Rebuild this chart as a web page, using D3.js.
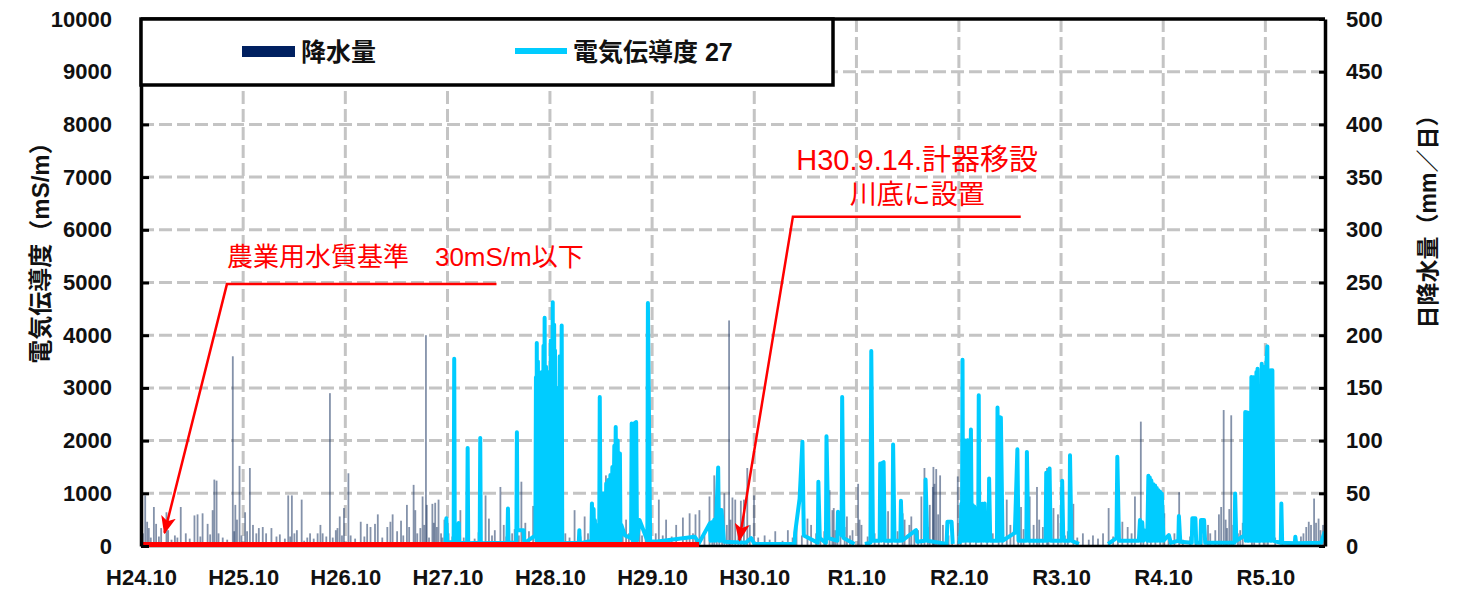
<!DOCTYPE html>
<html lang="ja">
<head>
<meta charset="UTF-8">
<title>電気伝導度と降水量</title>
<script src="https://cdn.jsdelivr.net/npm/d3@7"></script>
<style>
  body { margin: 0; background: #fff; }
  svg text { font-family: "Liberation Sans", "Noto Sans CJK JP", sans-serif; }
</style>
</head>
<body>
<div id="chart"></div>
<script>
// x ticks: each October
const yearTicks = ["2012-10-01","2013-10-01","2014-10-01","2015-10-01","2016-10-01","2017-10-01",
  "2018-10-01","2019-10-01","2020-10-01","2021-10-01","2022-10-01","2023-10-01"];
const yearLabels = ["H24.10","H25.10","H26.10","H27.10","H28.10","H29.10",
  "H30.10","R1.10","R2.10","R3.10","R4.10","R5.10"];
const condTicks = [0,1000,2000,3000,4000,5000,6000,7000,8000,9000,10000];
const rainTicks = [0,50,100,150,200,250,300,350,400,450,500];

// daily precipitation (mm/day), right axis
const precip = [
  ["2012-10-08",12],["2012-10-16",48],["2012-10-23",23],["2012-10-29",17],["2012-11-05",8],["2012-11-16",37],
  ["2012-11-24",21],["2012-12-04",9],["2012-12-12",17],["2012-12-31",32],["2013-01-06",15],["2013-01-18",6],
  ["2013-01-30",10],["2013-02-08",8],["2013-02-20",37],["2013-03-10",12],["2013-03-24",7],["2013-04-10",29],
  ["2013-04-21",30],["2013-05-01",9],["2013-05-09",31],["2013-05-27",21],["2013-06-05",11],["2013-06-14",34],
  ["2013-06-20",63],["2013-06-28",62],["2013-07-05",12],["2013-07-20",8],["2013-08-05",6],["2013-08-25",180],
  ["2013-08-30",14],["2013-09-03",39],["2013-09-09",25],["2013-09-18",76],["2013-09-25",10],
  ["2013-10-08",32],["2013-10-15",14],["2013-10-25",74],["2013-11-05",20],["2013-11-17",12],["2013-11-26",17],
  ["2013-12-10",18],["2013-12-22",12],["2014-01-10",17],["2014-01-28",9],["2014-02-09",11],["2014-02-27",7],
  ["2014-03-11",48],["2014-03-18",9],["2014-03-24",48],["2014-04-02",12],["2014-04-11",15],["2014-04-28",44],
  ["2014-05-07",5],["2014-05-18",8],["2014-05-28",12],["2014-06-10",7],["2014-06-24",12],["2014-07-04",20],
  ["2014-07-12",12],["2014-07-25",9],["2014-08-07",145],["2014-08-17",8],["2014-08-28",15],["2014-09-03",17],
  ["2014-09-11",28],["2014-09-19",10],["2014-09-26",36],
  ["2014-10-12",69],["2014-10-20",10],["2014-11-05",7],["2014-11-25",23],["2014-12-08",9],["2014-12-18",21],
  ["2014-12-30",18],["2015-01-15",21],["2015-01-25",30],["2015-02-10",8],["2015-02-28",18],["2015-03-11",23],
  ["2015-03-19",30],["2015-04-04",14],["2015-04-18",24],["2015-04-26",10],["2015-05-09",39],["2015-05-17",18],
  ["2015-06-02",58],["2015-06-08",34],["2015-06-15",12],["2015-06-26",17],["2015-07-04",47],["2015-07-10",20],
  ["2015-07-16",200],["2015-07-19",39],["2015-07-27",8],["2015-08-08",40],["2015-08-13",22],["2015-08-18",41],
  ["2015-08-24",18],["2015-08-30",44],["2015-09-08",12],["2015-09-13",8],["2015-09-20",25],
  ["2015-10-05",12],["2015-10-18",9],["2015-11-02",14],["2015-11-16",34],["2015-11-28",8],["2015-12-15",11],
  ["2016-01-06",7],["2016-01-20",13],["2016-02-14",48],["2016-02-26",26],["2016-03-08",10],["2016-03-18",15],
  ["2016-04-07",56],["2016-04-19",20],["2016-04-28",9],["2016-05-19",12],["2016-05-28",16],["2016-06-12",10],
  ["2016-06-21",61],["2016-07-05",22],["2016-07-18",14],["2016-08-02",38],["2016-08-20",12],["2016-09-05",18],
  ["2016-09-20",25],
  ["2016-10-06",15],["2016-10-20",20],["2016-11-08",10],["2016-11-25",12],["2016-12-10",8],["2016-12-28",34],
  ["2017-01-18",9],["2017-02-02",28],["2017-02-14",12],["2017-03-14",25],["2017-03-30",10],["2017-04-19",67],
  ["2017-05-13",50],["2017-05-30",9],["2017-06-18",14],["2017-06-30",25],["2017-07-10",12],["2017-07-28",18],
  ["2017-08-17",25],["2017-08-26",10],["2017-09-08",15],
  ["2017-10-14",12],["2017-10-25",44],["2017-11-08",10],["2017-11-20",25],["2017-12-10",9],["2017-12-26",20],
  ["2018-01-19",27],["2018-02-01",8],["2018-02-12",31],["2018-02-24",12],["2018-03-05",30],["2018-03-19",34],
  ["2018-04-06",10],["2018-04-24",47],["2018-05-04",18],["2018-05-11",67],["2018-05-20",22],["2018-05-29",50],
  ["2018-06-08",15],["2018-06-16",50],["2018-06-25",20],["2018-07-03",214],["2018-07-08",25],["2018-07-15",46],
  ["2018-07-25",44],["2018-08-05",18],["2018-08-14",43],["2018-08-25",44],["2018-09-06",74],["2018-09-15",20],
  ["2018-09-30",48],
  ["2018-10-15",8],["2018-11-07",10],["2018-11-25",6],["2018-12-15",14],["2019-01-10",5],["2019-01-29",15],
  ["2019-02-15",8],["2019-03-01",18],["2019-03-20",10],["2019-04-09",26],["2019-04-22",20],["2019-05-10",12],
  ["2019-05-25",9],["2019-06-08",14],["2019-06-27",53],["2019-07-07",34],["2019-07-12",36],["2019-07-18",15],
  ["2019-07-25",20],["2019-08-05",12],["2019-08-20",18],["2019-08-28",28],["2019-09-08",10],["2019-09-17",15],
  ["2019-10-07",59],["2019-10-12",25],["2019-10-19",20],["2019-11-10",9],["2019-12-05",12],["2019-12-20",8],
  ["2020-01-08",10],["2020-01-22",33],["2020-02-05",12],["2020-02-25",14],["2020-03-14",31],["2020-03-21",25],
  ["2020-04-07",20],["2020-04-14",28],["2020-04-25",12],["2020-05-08",15],["2020-05-20",47],["2020-05-31",74],
  ["2020-06-12",18],["2020-06-19",39],["2020-06-30",56],["2020-07-02",75],["2020-07-06",59],["2020-07-12",73],
  ["2020-07-19",30],["2020-07-26",67],["2020-08-05",20],["2020-08-25",10],["2020-09-07",15],["2020-09-27",66],
  ["2020-10-08",20],["2020-10-25",12],["2020-11-10",15],["2020-12-01",9],["2020-12-20",11],["2021-01-10",8],
  ["2021-01-30",12],["2021-02-20",15],["2021-03-05",10],["2021-03-21",44],["2021-04-03",20],["2021-04-15",14],
  ["2021-05-01",22],["2021-05-11",37],["2021-05-20",16],["2021-06-11",47],["2021-06-25",20],["2021-07-07",56],
  ["2021-07-15",25],["2021-07-28",18],["2021-08-12",74],["2021-08-17",30],["2021-09-04",36],["2021-09-20",30],
  ["2021-10-15",10],["2021-10-25",14],["2021-11-14",40],["2021-11-28",8],["2021-12-18",12],["2022-01-08",6],
  ["2022-01-23",10],["2022-02-10",7],["2022-02-28",12],["2022-03-20",36],["2022-04-05",9],["2022-04-22",14],
  ["2022-05-08",23],["2022-05-27",18],["2022-06-10",12],["2022-06-22",47],["2022-07-13",118],["2022-07-22",15],
  ["2022-08-05",20],["2022-08-18",12],["2022-09-03",25],["2022-09-20",16],
  ["2022-10-05",31],["2022-10-20",8],["2022-11-10",12],["2022-11-27",51],["2022-12-10",6],["2023-01-05",9],
  ["2023-01-25",7],["2023-02-15",10],["2023-03-10",20],["2023-03-18",12],["2023-04-05",15],["2023-04-18",30],
  ["2023-04-26",37],["2023-05-05",129],["2023-05-12",25],["2023-05-17",17],["2023-05-25",35],["2023-06-01",124],
  ["2023-06-08",20],["2023-06-25",12],["2023-07-03",15],["2023-07-12",22],["2023-08-14",100],["2023-08-22",30],
  ["2023-09-10",18],["2023-09-25",12],
  ["2023-10-10",10],["2023-11-05",8],["2023-12-01",6],["2024-01-16",10],["2024-02-05",9],["2024-02-14",12],
  ["2024-02-24",18],["2024-03-04",23],["2024-03-12",20],["2024-03-23",45],["2024-03-30",22],["2024-04-08",26],
  ["2024-04-15",15],["2024-04-24",20]
];

// electric conductivity (mS/m), left axis; null = no data
const cond = [
  ["2015-09-10",40],["2015-09-24",60],["2015-09-27",525],["2015-09-30",60],["2015-10-23",80],["2015-10-25",3555],
  ["2015-10-27",80],["2015-11-08",60],["2015-11-10",435],["2015-11-12",50],["2015-12-10",60],["2015-12-12",1860],
  ["2015-12-14",50],["2016-01-24",60],["2016-01-26",2050],["2016-01-28",50],["2016-05-02",60],["2016-05-04",713],
  ["2016-05-06",60],["2016-06-03",60],["2016-06-05",2160],["2016-06-07",300],["2016-06-29",300],["2016-07-01",50],
  ["2016-08-10",200],["2016-08-12",3200],["2016-08-14",100],["2016-08-15",3850],["2016-08-17",100],
  ["2016-08-19",3500],["2016-08-21",100],["2016-08-23",3176],["2016-08-25",100],["2016-08-27",3100],
  ["2016-08-30",100],["2016-09-02",3300],["2016-09-05",100],["2016-09-08",3800],["2016-09-10",100],
  ["2016-09-12",4331],["2016-09-14",100],["2016-09-17",3400],["2016-09-19",100],["2016-09-22",3140],
  ["2016-09-25",100],["2016-09-28",3300],["2016-10-01",100],["2016-10-04",3900],["2016-10-07",100],
  ["2016-10-11",4627],["2016-10-13",100],["2016-10-16",4200],["2016-10-18",100],["2016-10-19",3712],
  ["2016-10-22",100],["2016-10-25",3000],["2016-10-28",100],["2016-10-30",2500],["2016-11-02",100],
  ["2016-11-05",3600],["2016-11-08",100],["2016-11-12",4186],["2016-11-14",100],["2016-11-16",50],
  ["2017-01-12",60],["2017-01-14",300],["2017-01-16",50],
  ["2017-02-26",100],["2017-02-28",808],["2017-03-03",100],["2017-03-06",700],["2017-03-08",100],
  ["2017-03-10",492],["2017-03-14",100],["2017-03-20",400],["2017-03-26",100],["2017-03-28",2828],
  ["2017-03-31",100],["2017-04-03",900],["2017-04-05",100],["2017-04-08",998],["2017-04-11",100],
  ["2017-04-14",1000],["2017-04-17",100],["2017-04-20",1186],["2017-04-23",100],["2017-04-27",1250],
  ["2017-04-30",100],["2017-05-05",1345],["2017-05-08",100],["2017-05-12",1500],["2017-05-15",100],
  ["2017-05-19",1900],["2017-05-21",100],["2017-05-24",2260],["2017-05-27",100],["2017-05-31",2000],
  ["2017-06-03",100],["2017-06-08",1755],["2017-06-10",100],["2017-06-13",400],["2017-06-26",200],
  ["2017-07-18",150],["2017-07-20",2323],["2017-07-23",100],["2017-07-26",2300],["2017-07-29",100],
  ["2017-08-01",2340],["2017-08-03",100],["2017-08-05",2355],["2017-08-08",100],["2017-08-17",492],
  ["2017-08-31",300],["2017-09-14",100],["2017-09-16",4609],["2017-09-24",100],["2017-10-13",80],
  ["2018-03-02",177],["2018-03-18",60],["2018-04-25",430],["2018-04-28",100],["2018-05-02",450],
  ["2018-05-06",100],["2018-05-11",500],["2018-05-15",100],["2018-05-25",1490],["2018-05-28",100],
  ["2018-05-31",600],["2018-06-03",100],["2018-06-06",682],["2018-06-15",80],["2018-09-01",60],
  ["2018-09-20",150],["2018-10-01",40],["2019-02-22",40],["2019-02-24",250],
  ["2019-03-12",900],["2019-03-22",1976],["2019-03-27",200],["2019-05-16",60],["2019-05-18",1218],
  ["2019-05-23",150],["2019-06-14",60],["2019-06-16",2083],["2019-06-23",150],["2019-07-25",100],
  ["2019-07-27",650],["2019-08-09",200],["2019-08-11",2828],["2019-08-16",150],["2019-09-24",40],
  ["2019-09-25",null],["2019-10-31",40],["2019-11-20",60],["2019-11-23",3700],["2019-11-29",100],
  ["2019-12-23",100],["2019-12-25",1566],["2019-12-29",100],["2020-01-02",1580],["2020-01-06",1590],
  ["2020-01-10",100],["2020-02-07",100],
  ["2020-02-09",1925],["2020-02-14",100],["2020-03-06",100],["2020-03-08",858],["2020-03-12",100],
  ["2020-05-01",300],["2020-05-05",80],["2020-06-02",100],["2020-06-04",1263],["2020-06-10",100],
  ["2020-08-18",40],["2020-08-21",460],["2020-09-05",460],["2020-09-09",40],["2020-09-10",null],
  ["2020-10-03",40],["2020-10-08",300],["2020-10-10",800],["2020-10-12",100],["2020-10-14",3535],
  ["2020-10-16",100],["2020-10-18",1900],["2020-10-20",100],["2020-10-23",2000],["2020-10-26",100],
  ["2020-10-29",1950],["2020-11-01",2008],["2020-11-03",100],["2020-11-07",1900],["2020-11-09",100],
  ["2020-11-13",2210],["2020-11-16",100],["2020-11-19",780],["2020-11-22",100],["2020-11-25",750],
  ["2020-11-29",100],["2020-12-09",100],["2020-12-11",2860],["2020-12-13",100],["2020-12-17",800],
  ["2020-12-20",100],["2020-12-24",800],["2020-12-28",100],["2021-01-01",808],["2021-01-04",100],
  ["2021-01-15",100],["2021-01-17",1281],["2021-01-21",100],["2021-02-14",100],["2021-02-16",2626],
  ["2021-02-19",100],["2021-02-23",2450],["2021-02-25",100],["2021-02-28",2437],["2021-03-06",100],
  ["2021-04-19",250],["2021-04-28",1837],["2021-05-02",100],["2021-05-30",100],["2021-06-01",1786],
  ["2021-06-06",100],["2021-08-07",100],["2021-08-09",1389],["2021-08-13",100],["2021-08-17",1400],
  ["2021-08-21",1470],["2021-08-25",100],["2021-10-03",100],
  ["2021-10-05",1237],["2021-10-09",100],["2021-10-31",100],["2021-11-02",1723],["2021-11-07",100],
  ["2021-12-04",40],["2021-12-05",null],["2022-03-18",40],["2022-04-17",150],["2022-04-20",1692],
  ["2022-04-26",100],["2022-07-06",100],["2022-07-10",492],["2022-07-13",100],["2022-07-18",450],
  ["2022-07-22",100],["2022-07-25",300],["2022-08-05",100],["2022-08-09",1331],["2022-08-11",100],
  ["2022-08-14",1300],["2022-08-16",100],["2022-08-19",1250],["2022-08-21",1186],["2022-08-24",100],
  ["2022-08-27",1170],["2022-08-30",100],["2022-09-02",1150],["2022-09-05",100],["2022-09-08",1100],
  ["2022-09-11",100],["2022-09-14",1060],["2022-09-17",100],["2022-09-20",1030],["2022-09-23",100],
  ["2022-09-26",998],["2022-10-02",100],
  ["2022-10-21",208],["2022-10-28",60],["2022-11-24",100],["2022-11-26",568],["2022-12-01",80],
  ["2023-01-11",60],["2023-01-13",525],["2023-01-24",525],["2023-01-27",60],["2023-02-11",60],
  ["2023-02-13",492],["2023-02-24",492],["2023-02-28",60],["2023-06-13",60],["2023-06-15",998],
  ["2023-06-19",100],["2023-07-18",200],["2023-07-21",2544],["2023-07-23",100],["2023-07-26",2540],
  ["2023-07-29",100],["2023-08-01",2530],["2023-08-03",100],["2023-08-06",2500],["2023-08-09",100],
  ["2023-08-12",3207],["2023-08-15",100],["2023-08-18",3200],["2023-08-21",100],["2023-08-24",3200],
  ["2023-08-27",100],["2023-08-30",3300],["2023-09-01",100],["2023-09-03",3365],["2023-09-06",100],
  ["2023-09-08",2900],["2023-09-10",100],["2023-09-12",2513],["2023-09-15",100],["2023-09-18",3460],
  ["2023-09-21",100],["2023-09-24",3400],["2023-09-27",100],["2023-09-30",3400],["2023-10-03",100],
  ["2023-10-05",3500],["2023-10-08",3788],["2023-10-11",100],["2023-10-15",3333],["2023-10-18",100],
  ["2023-10-22",3333],["2023-10-24",100],["2023-10-26",3333],["2023-10-30",100],
  ["2023-11-25",60],["2023-11-27",808],["2023-11-30",60],["2024-01-14",50],["2024-01-16",176],
  ["2024-01-19",50],["2024-04-17",60],["2024-04-30",271]
];

// 農業用水質基準 30 mS/m
const standard = [["2012-10-01",30],["2018-03-18",30]];
// annotation leaders: [date, mS/m]
const note1Leader = [["2016-03-24",4970],["2013-08-04",4970],["2012-12-24",250]];
const note2Leader = [["2021-05-10",6250],["2019-02-16",6250],["2018-08-09",110]];

const parse = d3.timeParse("%Y-%m-%d");
const W = 1470, H = 593;
const plotL = 141, plotR = 1325, plotT = 19, plotB = 546;

const svg = d3.select("#chart").append("svg")
  .attr("width", W).attr("height", H);

const defs = svg.append("defs");
defs.append("marker")
  .attr("id", "arrow")
  .attr("viewBox", "0 0 12 10")
  .attr("refX", 11).attr("refY", 5)
  .attr("markerWidth", 18).attr("markerHeight", 15)
  .attr("markerUnits", "userSpaceOnUse")
  .attr("orient", "auto")
  .append("path")
  .attr("d", "M0,0 L12,5 L0,10 L3,5 Z")
  .attr("fill", "#ff0000");

const x = d3.scaleTime()
  .domain([parse("2012-10-01"), parse("2024-05-01")])
  .range([plotL, plotR]);
const y = d3.scaleLinear().domain([0, 10000]).range([plotB, plotT]);
const yR = d3.scaleLinear().domain([0, 500]).range([plotB, plotT]);

// grid
const grid = svg.append("g")
  .attr("stroke", "#c4c4c4").attr("stroke-width", 3).attr("stroke-dasharray", "13,5");
grid.selectAll("line.h").data(condTicks.slice(1, -1)).enter().append("line")
  .attr("x1", plotL).attr("x2", plotR)
  .attr("y1", d => y(d)).attr("y2", d => y(d));
grid.selectAll("line.v").data(yearTicks.slice(1)).enter().append("line")
  .attr("x1", d => x(parse(d))).attr("x2", d => x(parse(d)))
  .attr("y1", plotT).attr("y2", plotB);

// precipitation bars
svg.append("g").selectAll("rect").data(precip).enter().append("rect")
  .attr("x", d => x(parse(d[0])) - 0.9)
  .attr("width", 1.8)
  .attr("y", d => yR(d[1]))
  .attr("height", d => plotB - yR(d[1]))
  .attr("fill", "#1f3864")
  .attr("fill-opacity", 0.55);

// conductivity
const line = d3.line()
  .defined(d => d[1] != null)
  .x(d => x(parse(d[0])))
  .y(d => y(d[1]));
svg.append("path")
  .datum(cond)
  .attr("d", line)
  .attr("fill", "none")
  .attr("stroke", "#00ccff")
  .attr("stroke-width", 4)
  .attr("stroke-linejoin", "round");

// bottom black axis line under the standard line
svg.append("line")
  .attr("x1", plotL).attr("x2", plotR).attr("y1", plotB).attr("y2", plotB)
  .attr("stroke", "#000").attr("stroke-width", 2.5);

// standard line
svg.append("path")
  .datum(standard)
  .attr("d", line)
  .attr("stroke", "#ff0000").attr("stroke-width", 5).attr("fill", "none");

// axes
const tickFont = g => g.selectAll("text")
  .attr("font-size", 22).attr("font-weight", "bold").attr("fill", "#111");

svg.append("g")
  .attr("transform", `translate(${plotL},0)`)
  .call(d3.axisLeft(y).tickValues(condTicks).tickFormat(d3.format("d"))
    .tickSizeInner(-8).tickSizeOuter(0).tickPadding(29))
  .call(g => g.select(".domain").attr("stroke-width", 3.5))
  .call(g => g.selectAll(".tick line").attr("stroke-width", 3))
  .call(tickFont);

svg.append("g")
  .attr("transform", `translate(${plotR},0)`)
  .call(d3.axisRight(yR).tickValues(rainTicks).tickFormat(d3.format("d"))
    .tickSizeInner(-6).tickSizeOuter(0).tickPadding(21))
  .call(g => g.select(".domain").attr("stroke-width", 3.5))
  .call(g => g.selectAll(".tick line").attr("stroke-width", 3))
  .call(tickFont);

svg.append("g")
  .attr("transform", `translate(0,${plotB})`)
  .call(d3.axisBottom(x).tickValues(yearTicks.map(parse))
    .tickFormat((d, i) => yearLabels[i]).tickSize(0).tickPadding(23))
  .call(g => g.select(".domain").remove())
  .call(tickFont);

// top border
svg.append("line")
  .attr("x1", plotL).attr("x2", plotR).attr("y1", plotT).attr("y2", plotT)
  .attr("stroke", "#000").attr("stroke-width", 3.5);

// axis titles
svg.append("text")
  .attr("transform", "translate(40,247) rotate(-90)")
  .attr("text-anchor", "middle").attr("dominant-baseline", "central")
  .attr("font-size", 24).attr("font-weight", "bold").attr("fill", "#111")
  .text("電気伝導度（mS/m）");
svg.append("text")
  .attr("transform", "translate(1428,216) rotate(-90)")
  .attr("text-anchor", "middle").attr("dominant-baseline", "central")
  .attr("font-size", 23).attr("font-weight", "bold").attr("fill", "#111")
  .text("日降水量（mm／日）");

// legend
const lg = svg.append("g");
lg.append("rect")
  .attr("x", plotL).attr("y", plotT).attr("width", 692).attr("height", 66)
  .attr("fill", "#fff").attr("stroke", "#000").attr("stroke-width", 3.5);
lg.append("rect")
  .attr("x", 242).attr("y", 46).attr("width", 53).attr("height", 11)
  .attr("fill", "#002060");
lg.append("text")
  .attr("x", 301).attr("y", 61)
  .attr("font-size", 25).attr("font-weight", "bold").attr("fill", "#111")
  .text("降水量");
lg.append("line")
  .attr("x1", 515).attr("x2", 567).attr("y1", 51).attr("y2", 51)
  .attr("stroke", "#00ccff").attr("stroke-width", 6);
lg.append("text")
  .attr("x", 573).attr("y", 61)
  .attr("font-size", 25).attr("font-weight", "bold").attr("fill", "#111")
  .text("電気伝導度 27");

// annotations
const leader = d3.line().x(d => x(parse(d[0]))).y(d => y(d[1]));
[note1Leader, note2Leader].forEach(pts => {
  svg.append("path")
    .datum(pts)
    .attr("d", leader)
    .attr("fill", "none")
    .attr("stroke", "#ff0000").attr("stroke-width", 2.5)
    .attr("marker-end", "url(#arrow)");
});

svg.append("text")
  .attr("x", x(parse("2013-08-04"))).attr("y", y(5310))
  .attr("font-size", 26).attr("fill", "#ff0000")
  .text("農業用水質基準\u300030mS/m以下");

const n2 = svg.append("text")
  .attr("text-anchor", "middle").attr("fill", "#ff0000");
n2.append("tspan").attr("x", x(parse("2020-05-05"))).attr("y", y(7135))
  .attr("font-size", 29).text("H30.9.14.計器移設");
n2.append("tspan").attr("x", x(parse("2020-05-05"))).attr("y", y(6490))
  .attr("font-size", 27).text("川底に設置");
</script>
</body>
</html>
